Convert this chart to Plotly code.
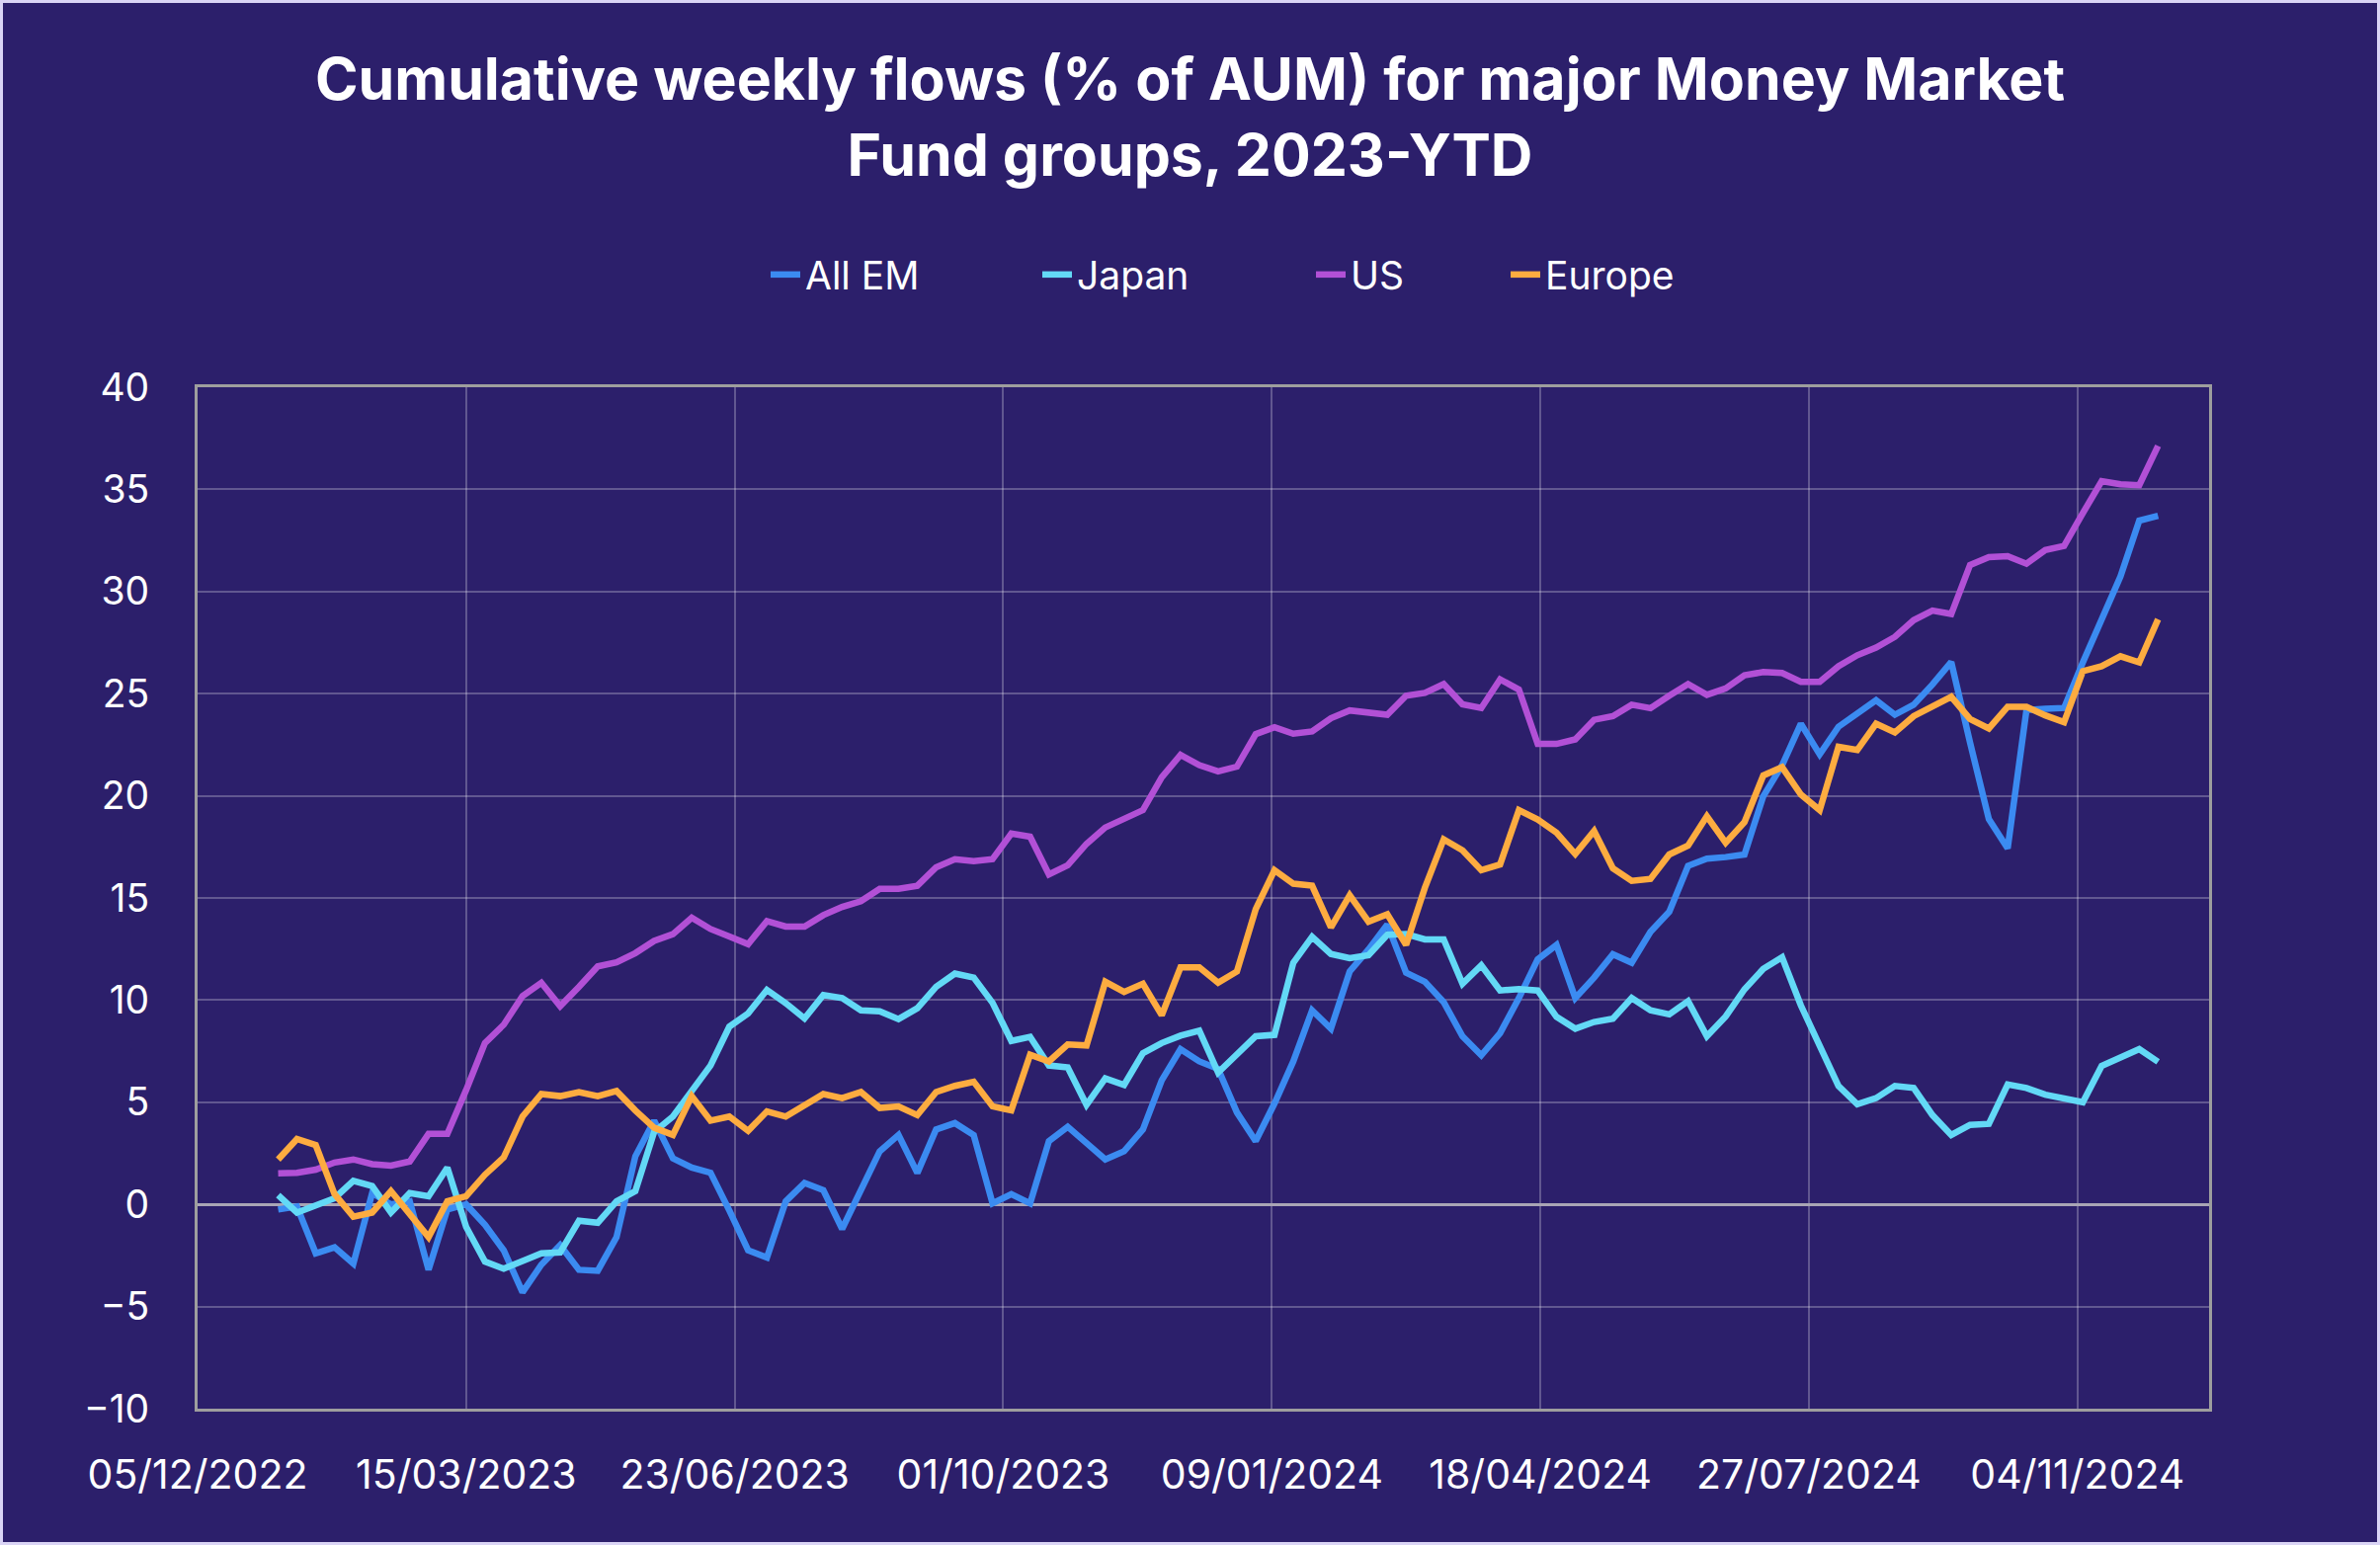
import pandas as pd
import plotly.graph_objects as go

# Weekly observation dates (Wednesdays)
dates = pd.date_range("2023-01-04", periods=101, freq="7D")

all_em = [-0.25, -0.1, -2.4, -2.1, -2.9, 0.55, 0.0, 0.15, -3.2, -0.25,
          0.0, -1.0, -2.25, -4.3, -2.95, -2.0, -3.2, -3.25, -1.6, 2.35,
          4.1, 2.25, 1.8, 1.55, -0.3, -2.25, -2.6, 0.15, 1.05, 0.7,
          -1.2, 0.7, 2.6, 3.4, 1.54, 3.67, 3.98, 3.39, 0.05, 0.5,
          0.05, 3.1, 3.8, 3.0, 2.2, 2.6, 3.67, 6.07, 7.6, 7.0,
          6.63, 4.5, 3.1, 4.94, 7.0, 9.5, 8.6, 11.4, 12.48, 13.7,
          11.34, 10.9, 9.9, 8.23, 7.3, 8.38, 10.1, 12.0, 12.7, 10.1,
          11.1, 12.24, 11.83, 13.34, 14.33, 16.57, 16.92, 17.0, 17.13, 19.98,
          21.49, 23.53, 22.03, 23.38, 24.03, 24.68, 23.97, 24.46, 25.45, 26.55,
          22.6, 18.86, 17.43, 24.2, 24.26, 24.3, 26.53, 28.64, 30.74, 33.47,
          33.71]

japan = [0.45, -0.4, -0.05, 0.3, 1.15, 0.9, -0.4, 0.55, 0.4, 1.8,
         -1.1, -2.8, -3.15, -2.75, -2.4, -2.35, -0.8, -0.9, 0.15, 0.65,
         3.55, 4.3, 5.5, 6.8, 8.7, 9.35, 10.5, 9.85, 9.1, 10.25,
         10.1, 9.5, 9.45, 9.07, 9.6, 10.65, 11.3, 11.1, 9.87, 8.0,
         8.2, 6.8, 6.7, 4.87, 6.17, 5.85, 7.4, 7.9, 8.26, 8.5,
         6.45, 7.37, 8.23, 8.3, 11.83, 13.1, 12.26, 12.05, 12.2, 13.2,
         13.23, 12.97, 12.97, 10.8, 11.7, 10.47, 10.54, 10.47, 9.18, 8.6,
         8.93, 9.09, 10.1, 9.5, 9.3, 9.95, 8.23, 9.2, 10.53, 11.53,
         12.1, 9.74, 7.8, 5.8, 4.9, 5.2, 5.8, 5.7, 4.37, 3.4,
         3.89, 3.94, 5.87, 5.7, 5.37, 5.2, 5.0, 6.78, 7.18, 7.6,
         6.98]

us = [1.52, 1.55, 1.7, 2.05, 2.2, 1.97, 1.9, 2.1, 3.45, 3.45,
      5.6, 7.9, 8.8, 10.2, 10.85, 9.7, 10.65, 11.65, 11.85, 12.3,
      12.9, 13.23, 14.03, 13.48, 13.11, 12.74, 13.87, 13.6, 13.6, 14.16,
      14.56, 14.84, 15.45, 15.45, 15.6, 16.5, 16.9, 16.8, 16.9, 18.15,
      18.0, 16.15, 16.6, 17.65, 18.45, 18.9, 19.3, 20.9, 22.0, 21.5,
      21.2, 21.43, 23.02, 23.36, 23.04, 23.15, 23.8, 24.18, 24.07, 23.97,
      24.9, 25.04, 25.47, 24.48, 24.3, 25.7, 25.2, 22.54, 22.54, 22.76,
      23.72, 23.9, 24.46, 24.29, 24.9, 25.47, 24.94, 25.26, 25.9, 26.06,
      26.01, 25.58, 25.58, 26.34, 26.88, 27.26, 27.78, 28.6, 29.07, 28.9,
      31.3, 31.68, 31.73, 31.36, 32.03, 32.23, 33.84, 35.4, 35.25, 35.2,
      37.13]

europe = [2.2, 3.2, 2.9, 0.5, -0.6, -0.4, 0.65, -0.5, -1.6, 0.15,
          0.4, 1.45, 2.3, 4.3, 5.4, 5.3, 5.5, 5.3, 5.55, 4.6,
          3.75, 3.4, 5.3, 4.1, 4.3, 3.6, 4.55, 4.3, 4.85, 5.4,
          5.2, 5.5, 4.72, 4.8, 4.37, 5.5, 5.8, 6.0, 4.8, 4.6,
          7.33, 7.0, 7.83, 7.78, 10.9, 10.4, 10.8, 9.26, 11.6, 11.6,
          10.85, 11.4, 14.45, 16.36, 15.7, 15.6, 13.56, 15.13, 13.84, 14.2,
          12.7, 15.5, 17.87, 17.33, 16.36, 16.64, 19.3, 18.84, 18.2, 17.15,
          18.28, 16.45, 15.84, 15.93, 17.13, 17.56, 19.0, 17.7, 18.71, 21.0,
          21.4, 20.06, 19.3, 22.4, 22.24, 23.53, 23.1, 23.9, 24.38, 24.85,
          23.76, 23.3, 24.36, 24.36, 23.94, 23.6, 26.1, 26.34, 26.83, 26.53,
          28.64]

series_names = ["All EM", "Japan", "US", "Europe"]
series_values = [all_em, japan, us, europe]
series_colors = ["#3B8BF1", "#63D9F6", "#B250D6", "#FDAC40"]

y_ticks = [-10, -5, 0, 5, 10, 15, 20, 25, 30, 35, 40]

BG = "#2C1F6B"
FONT = "Inter"

W, H = 2409, 1564
ml, mr, mt, mb = 200, 173, 392, 138
pw, ph = W - ml - mr, H - mt - mb

# left pixel of each legend text in the reference
legend_text_px = [817, 1092, 1369, 1566]
legend_keys = ["legend", "legend2", "legend3", "legend4"]

fig = go.Figure()
for name, vals, col, lk in zip(series_names, series_values, series_colors, legend_keys):
    fig.add_trace(go.Scatter(
        x=dates, y=vals, name=name, mode="lines",
        line=dict(color=col, width=6.5), legend=lk,
    ))

legend_layout = {}
for lk, tx in zip(legend_keys, legend_text_px):
    legend_layout[lk] = dict(
        orientation="h", xref="paper", x=(tx - 42 - ml) / pw, xanchor="left",
        yref="paper", y=1 + (mt - 278) / ph, yanchor="middle",
        font=dict(family=FONT, size=39, color="white"),
        bgcolor="rgba(0,0,0,0)", borderwidth=0,
    )

fig.update_layout(
    width=W, height=H,
    autosize=False,
    margin=dict(l=ml, r=mr, t=mt, b=mb, pad=0, autoexpand=False),
    paper_bgcolor=BG, plot_bgcolor=BG,
    font=dict(family=FONT, color="white", size=38),
    title=dict(
        text="Cumulative weekly flows (% of AUM) for major Money Market<br>Fund groups, 2023-YTD",
        font=dict(family=FONT, size=59, color="white", weight=700),
        x=0.5, xanchor="center", xref="container",
        y=1 - 101 / H, yanchor="top", yref="container",
    ),
    showlegend=True,
    xaxis=dict(
        type="date",
        range=["2022-12-05", "2024-12-23"],
        tick0="2022-12-05", dtick=100 * 86400000,
        tickformat="%d/%m/%Y", tickangle=0, automargin=False,
        showgrid=True, gridcolor="rgba(255,255,255,0.25)", gridwidth=1.5,
        showline=True, linecolor="#9E9E9E", linewidth=3, mirror=True,
        ticks="", ticklabelstandoff=29,
        tickfont=dict(family=FONT, size=41, color="white"),
        zeroline=False,
    ),
    yaxis=dict(
        range=[-10, 40], tickvals=y_ticks, automargin=False,
        showgrid=True, gridcolor="rgba(255,255,255,0.25)", gridwidth=1.5,
        zeroline=True, zerolinecolor="#A9A5B5", zerolinewidth=2.5,
        showline=True, linecolor="#9E9E9E", linewidth=3, mirror=True,
        ticks="", ticklabelstandoff=38,
        tickfont=dict(family=FONT, size=39, color="white"),
    ),
    shapes=[dict(
        type="rect", xref="paper", yref="paper",
        x0=-ml / pw, x1=1 + mr / pw, y0=-mb / ph, y1=1 + mt / ph,
        line=dict(color="#DAD4F5", width=6), fillcolor="rgba(0,0,0,0)",
        layer="below",
    )],
    **legend_layout,
)

fig.write_html(
    "out.html",
    config={"displayModeBar": False},
    post_script="document.body.style.margin='0';document.body.style.overflow='hidden';",
)
